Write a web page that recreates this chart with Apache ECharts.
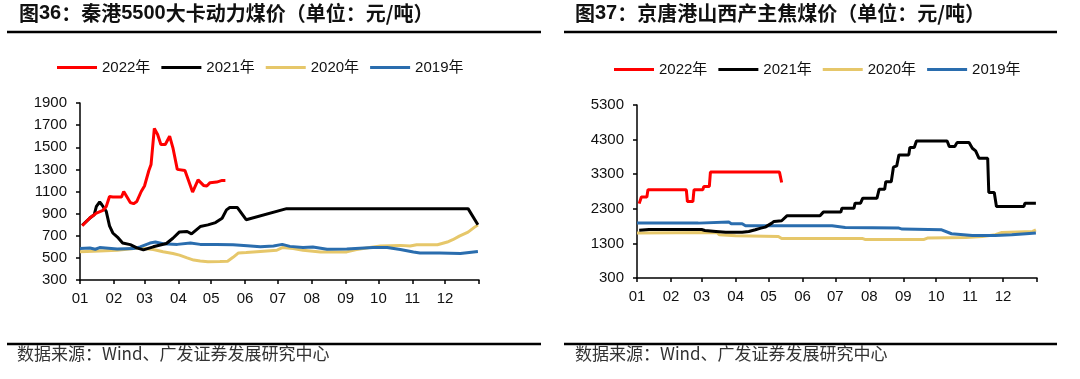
<!DOCTYPE html>
<html>
<head>
<meta charset="utf-8">
<script src="https://cdn.jsdelivr.net/npm/echarts@6/dist/echarts.min.js"></script>
<style>
html,body{margin:0;padding:0;background:#fff;}
#chart{width:1080px;height:379px;}
</style>
</head>
<body>
<div id="chart"></div>
<script>
// ---- axis definitions ----
const monthLabels = ['01','02','03','04','05','06','07','08','09','10','11','12'];
const monthDays = [31,28,31,30,31,30,31,31,30,31,30,31];
const seriesNames = ['2022年','2021年','2020年','2019年'];
const seriesColors = ['#FF0000','#000000','#E6C76A','#2A6DAE'];
const leftY = {min:300, max:1900, interval:200};
const rightY = {min:300, max:5300, interval:1000};

const leftTitle = '{c|图}{n|36}{c|：秦港}{n|5500}{c|大卡动力煤价（单位：元/吨）}';
const rightTitle = '{c|图}{n|37}{c|：京唐港山西产主焦煤价（单位：元/吨）}';
const sourceText = '数据来源：Wind、广发证券发展研究中心';

// ---- 秦港5500大卡动力煤价 ----
const qin2022 = [['01-03',790],['01-10',860],['01-16',905],['01-22',930],['01-25',965],['01-28',1055],['01-31',1050],['02-08',1050],['02-10',1100],['02-16',1000],['02-19',990],['02-22',1010],['02-26',1100],['03-01',1150],['03-05',1290],['03-07',1345],['03-10',1670],['03-13',1615],['03-16',1525],['03-20',1525],['03-24',1600],['03-27',1495],['03-31',1300],['04-07',1290],['04-11',1180],['04-14',1095],['04-19',1205],['04-24',1155],['04-27',1150],['04-30',1180],['05-06',1185],['05-11',1200],['05-14',1200]];
const qin2021 = [['01-03',795],['01-10',860],['01-14',890],['01-16',965],['01-19',1005],['01-21',980],['01-25',920],['01-28',790],['01-31',725],['02-05',680],['02-09',635],['02-16',620],['02-22',590],['02-28',572],['03-09',600],['03-21',630],['03-27',677],['04-02',735],['04-09',738],['04-13',717],['04-21',783],['04-28',798],['05-05',819],['05-11',858],['05-15',934],['05-18',955],['05-25',955],['06-02',845],['07-09',945],['12-22',945],['12-31',800]];
const qin2020 = [['01-01',555],['01-19',563],['02-04',569],['02-19',584],['02-28',585],['03-09',575],['03-18',555],['03-27',540],['04-02',525],['04-09',500],['04-15',480],['04-21',472],['04-28',466],['05-09',468],['05-16',470],['05-21',505],['05-26',545],['06-02',548],['06-15',558],['06-30',569],['07-05',593],['07-15',584],['07-24',569],['08-09',554],['09-02',554],['09-11',575],['09-23',593],['10-03',607],['10-21',613],['10-30',607],['11-05',619],['11-24',619],['12-03',643],['12-08',664],['12-14',697],['12-22',733],['12-28',778],['12-31',798]];
const qin2019 = [['01-01',584],['01-10',590],['01-15',578],['01-19',593],['02-04',581],['02-19',584],['02-25',599],['03-06',634],['03-11',643],['03-18',628],['03-31',622],['04-12',634],['04-21',622],['05-06',622],['05-21',619],['06-03',610],['06-15',600],['06-27',608],['07-05',622],['07-12',604],['07-24',593],['08-02',599],['08-15',578],['09-02',581],['09-14',587],['09-26',593],['10-09',593],['10-21',575],['11-02',554],['11-08',545],['11-26',545],['12-15',539],['12-31',557]];

// ---- 京唐港山西产主焦煤价 ----
const jt2022 = [['01-03',2450],['01-05',2640],['01-10',2640],['01-11',2850],['02-15',2850],['02-16',2510],['02-21',2510],['02-22',2850],['03-02',2850],['03-03',2945],['03-08',2945],['03-09',3360],['05-11',3360],['05-13',3060]];
const jt2021 = [['01-03',1680],['01-12',1700],['03-01',1700],['03-04',1675],['03-14',1646],['03-23',1620],['04-07',1620],['04-13',1646],['04-19',1694],['04-24',1742],['04-28',1771],['05-04',1886],['05-06',1935],['05-13',1954],['05-18',2100],['06-17',2100],['06-20',2204],['07-06',2204],['07-07',2319],['07-18',2319],['07-19',2463],['07-24',2463],['07-26',2608],['08-08',2608],['08-10',2867],['08-15',2867],['08-16',3079],['08-21',3079],['08-23',3502],['08-26',3540],['08-28',3858],['09-06',3858],['09-07',4069],['09-11',4069],['09-13',4261],['10-11',4261],['10-13',4098],['10-18',4098],['10-20',4213],['10-31',4213],['11-03',4050],['11-06',3973],['11-09',3762],['11-17',3762],['11-18',2771],['11-23',2771],['11-25',2367],['12-20',2367],['12-21',2463],['12-31',2463]];
const jt2020 = [['01-01',1600],['03-15',1615],['03-17',1550],['04-01',1520],['05-10',1500],['05-13',1440],['07-26',1440],['07-28',1415],['09-20',1415],['09-23',1455],['10-28',1470],['11-12',1500],['11-24',1550],['11-30',1617],['12-28',1646],['12-31',1690]];
const jt2019 = [['01-01',1886],['02-26',1886],['02-27',1915],['03-26',1915],['03-28',1867],['04-07',1867],['04-10',1810],['06-28',1810],['07-10',1761],['08-28',1742],['08-31',1713],['10-06',1694],['10-15',1579],['11-03',1531],['11-24',1531],['12-09',1550],['12-22',1579],['12-31',1598]];

// daily categories (MM-DD) plus year end
const dayCategories = [];
monthLabels.forEach((m, i) => {
  for (let d = 1; d <= monthDays[i]; d++) dayCategories.push(m + '-' + (d < 10 ? '0' + d : '' + d));
});
dayCategories.push('END');

const axisFont = {fontFamily: '"Liberation Sans", Arial, "Noto Sans CJK SC"', fontSize: 15, color: '#111'};

function xAxis(gridIndex) {
  return {
    type: 'category', gridIndex, data: dayCategories, boundaryGap: false,
    axisLine: {lineStyle: {color: '#000', width: 1.5}},
    axisTick: {show: true, length: 4, lineStyle: {color: '#000', width: 1.5},
      interval: (i, v) => v === 'END' || v.slice(3) === '01'},
    axisLabel: Object.assign({margin: 11, interval: (i, v) => v !== 'END' && v.slice(3) === '01',
      formatter: v => v.slice(0, 2)}, axisFont),
    splitLine: {show: false}
  };
}
function yAxis(gridIndex, cfg) {
  return {
    type: 'value', gridIndex, min: cfg.min, max: cfg.max, interval: cfg.interval,
    axisLine: {show: true, lineStyle: {color: '#000', width: 1.5}},
    axisTick: {show: true, length: 4, lineStyle: {color: '#000', width: 1.5}},
    axisLabel: Object.assign({margin: 13, formatter: v => String(v)}, axisFont),
    splitLine: {show: false}
  };
}
const zOrder = [5, 4, 2, 3];
function makeSeries(idx, data, axisIdx) {
  return {
    name: seriesNames[idx], type: 'line', data, xAxisIndex: axisIdx, yAxisIndex: axisIdx,
    showSymbol: false, symbol: 'none', z: zOrder[idx], animation: false,
    lineStyle: {color: seriesColors[idx], width: 3}, itemStyle: {color: seriesColors[idx]}
  };
}
function legend(left, top) {
  return {
    left, top, data: seriesNames, icon: 'rect', itemWidth: 40, itemHeight: 3, itemGap: 11,
    textStyle: {fontFamily: '"Liberation Sans", Arial, "Noto Sans CJK SC"', fontSize: 15, color: '#111'},
    selectedMode: false
  };
}
const titleRich = {
  c: {fontFamily: '"Noto Sans CJK SC"', fontWeight: 'bold', fontSize: 20, fill: '#111'},
  n: {fontFamily: '"Liberation Sans", Arial', fontWeight: 'bold', fontSize: 20, fill: '#111'}
};
const srcFont = '17px "Noto Sans CJK SC", "Liberation Sans"';

const chart = echarts.init(document.getElementById('chart'), null, {renderer: 'canvas'});
chart.setOption({
  backgroundColor: '#fff',
  animation: false,
  grid: [
    {left: 80, top: 103, width: 399, height: 177},
    {left: 637, top: 105, width: 400, height: 173}
  ],
  legend: [legend(52, 55), legend(609, 57)],
  xAxis: [xAxis(0), xAxis(1)],
  yAxis: [yAxis(0, leftY), yAxis(1, rightY)],
  series: [
    makeSeries(3, qin2019, 0), makeSeries(2, qin2020, 0), makeSeries(1, qin2021, 0), makeSeries(0, qin2022, 0),
    makeSeries(3, jt2019, 1), makeSeries(2, jt2020, 1), makeSeries(1, jt2021, 1), makeSeries(0, jt2022, 1)
  ],
  graphic: [
    {type: 'text', left: 19, top: 3, style: {text: leftTitle, rich: titleRich, fill: '#111'}},
    {type: 'text', left: 575, top: 3, style: {text: rightTitle, rich: titleRich, fill: '#111'}},
    {type: 'line', shape: {x1: 7, y1: 32, x2: 541, y2: 32}, style: {stroke: '#000', lineWidth: 2.5}},
    {type: 'line', shape: {x1: 564, y1: 32, x2: 1057, y2: 32}, style: {stroke: '#000', lineWidth: 2.5}},
    {type: 'line', shape: {x1: 7, y1: 344, x2: 541, y2: 344}, style: {stroke: '#000', lineWidth: 2.5}},
    {type: 'line', shape: {x1: 564, y1: 344, x2: 1057, y2: 344}, style: {stroke: '#000', lineWidth: 2.5}},
    {type: 'text', left: 17, top: 345, style: {text: sourceText, font: srcFont, fill: '#333'}},
    {type: 'text', left: 575, top: 345, style: {text: sourceText, font: srcFont, fill: '#333'}}
  ]
});
</script>
</body>
</html>
